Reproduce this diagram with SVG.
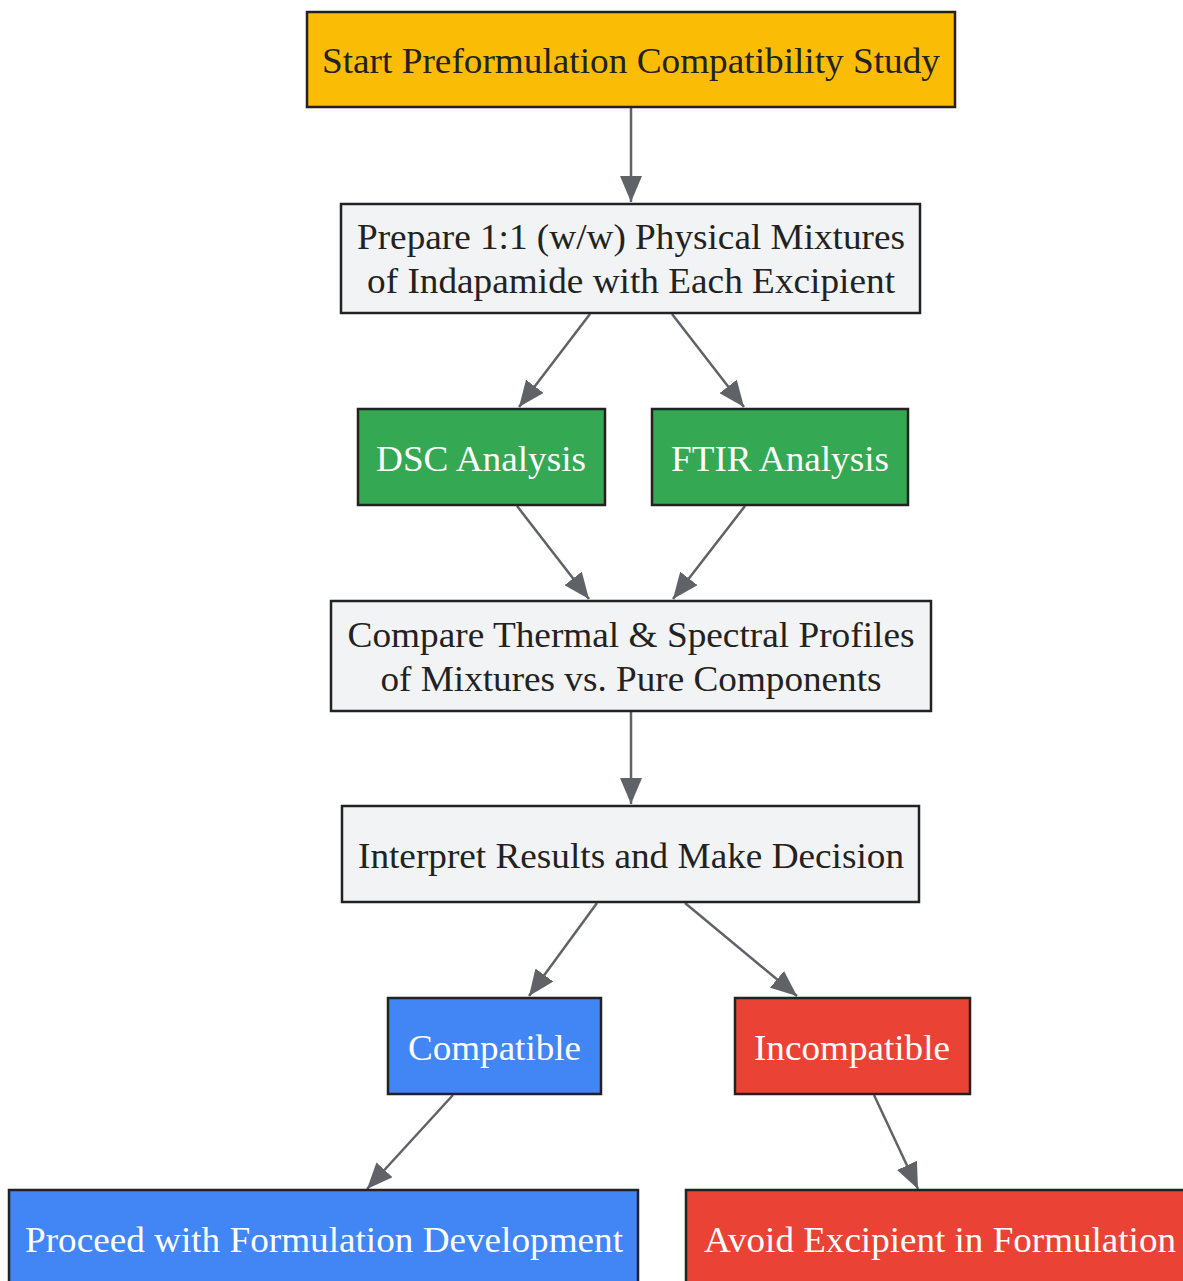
<svg xmlns="http://www.w3.org/2000/svg" width="1183" height="1281" viewBox="0 0 1183 1281">
<style>
.n rect{stroke:#222222;stroke-width:2.5}
.t{font-family:"Liberation Serif","DejaVu Serif",serif;font-size:36px;text-anchor:middle}
.d{fill:#222222}
.w{fill:#ffffff}
.e{stroke:#5f6368;stroke-width:2.5;fill:none;marker-end:url(#ah)}
</style>
<defs>
<marker id="ah" markerUnits="userSpaceOnUse" markerWidth="28" markerHeight="22" refX="26" refY="11" orient="auto">
<path d="M0,0 L26,11 L0,22 Z" fill="#5f6368"/>
</marker>
</defs>
<rect width="1183" height="1281" fill="#ffffff"/>
<g id="connectors">
<line class="e" x1="631" y1="108" x2="631" y2="202"/>
<line class="e" x1="590" y1="314" x2="519" y2="407"/>
<line class="e" x1="672" y1="314" x2="744" y2="407"/>
<line class="e" x1="517" y1="506" x2="589" y2="599"/>
<line class="e" x1="745" y1="506" x2="673" y2="599"/>
<line class="e" x1="631" y1="712" x2="631" y2="804"/>
<line class="e" x1="597" y1="903" x2="529" y2="996"/>
<line class="e" x1="685" y1="903" x2="797" y2="996"/>
<line class="e" x1="453" y1="1095" x2="367" y2="1189"/>
<line class="e" x1="874" y1="1095" x2="918" y2="1189"/>
</g>
<g id="start" class="n">
<rect x="307" y="12" width="648" height="95" fill="#FBBC05"/>
<text class="t d" x="631" y="73" textLength="618" lengthAdjust="spacingAndGlyphs">Start Preformulation Compatibility Study</text>
</g>
<g id="prepare" class="n">
<rect x="341" y="204" width="579" height="109" fill="#F1F3F4"/>
<text class="t d" x="631" y="249" textLength="548" lengthAdjust="spacingAndGlyphs">Prepare 1:1 (w/w) Physical Mixtures</text>
<text class="t d" x="631" y="293" textLength="528" lengthAdjust="spacingAndGlyphs">of Indapamide with Each Excipient</text>
</g>
<g id="dsc" class="n">
<rect x="358" y="409" width="247" height="96" fill="#34A853"/>
<text class="t w" x="481" y="471" textLength="210" lengthAdjust="spacingAndGlyphs">DSC Analysis</text>
</g>
<g id="ftir" class="n">
<rect x="652" y="409" width="256" height="96" fill="#34A853"/>
<text class="t w" x="780" y="471" textLength="218" lengthAdjust="spacingAndGlyphs">FTIR Analysis</text>
</g>
<g id="compare" class="n">
<rect x="331" y="601" width="600" height="110" fill="#F1F3F4"/>
<text class="t d" x="631" y="647" textLength="567" lengthAdjust="spacingAndGlyphs">Compare Thermal &amp; Spectral Profiles</text>
<text class="t d" x="631" y="691" textLength="501" lengthAdjust="spacingAndGlyphs">of Mixtures vs. Pure Components</text>
</g>
<g id="interpret" class="n">
<rect x="342" y="806" width="577" height="96" fill="#F1F3F4"/>
<text class="t d" x="631" y="868" textLength="546" lengthAdjust="spacingAndGlyphs">Interpret Results and Make Decision</text>
</g>
<g id="compatible" class="n">
<rect x="388" y="998" width="213" height="96" fill="#4285F4"/>
<text class="t w" x="494.5" y="1060" textLength="173" lengthAdjust="spacingAndGlyphs">Compatible</text>
</g>
<g id="incompatible" class="n">
<rect x="735" y="998" width="235" height="96" fill="#EA4335"/>
<text class="t w" x="852" y="1060" textLength="196" lengthAdjust="spacingAndGlyphs">Incompatible</text>
</g>
<g id="proceed" class="n">
<rect x="9" y="1190" width="629" height="110" fill="#4285F4"/>
<text class="t w" x="324" y="1252" textLength="598" lengthAdjust="spacingAndGlyphs">Proceed with Formulation Development</text>
</g>
<g id="avoid" class="n">
<rect x="686" y="1190" width="510" height="110" fill="#EA4335"/>
<text class="t w" x="940" y="1252" textLength="472" lengthAdjust="spacingAndGlyphs">Avoid Excipient in Formulation</text>
</g>
</svg>
